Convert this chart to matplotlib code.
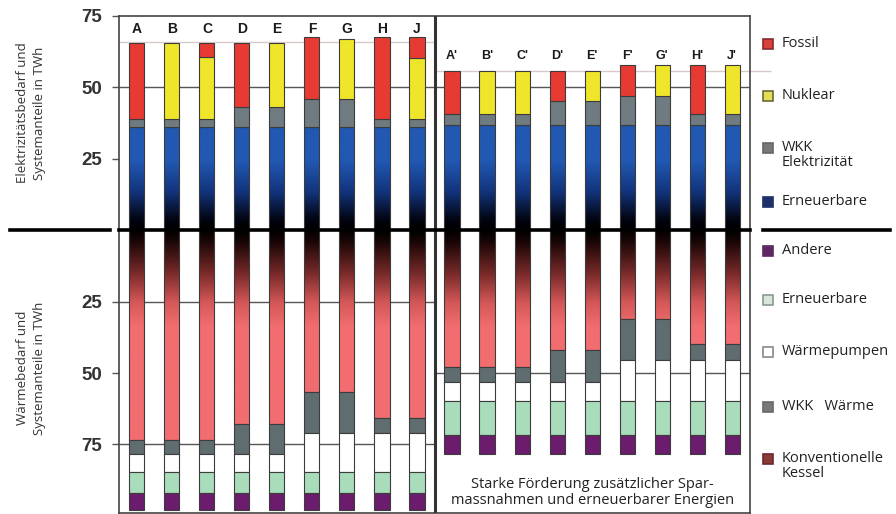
import numpy as np
import matplotlib.pyplot as plt
from matplotlib.colors import LinearSegmentedColormap, Normalize
from matplotlib.patches import Rectangle

plt.rcParams["font.family"] = ["Open Sans", "DejaVu Sans"]

# =========================
# Daten (TWh)
# =========================
szenarien = ["A", "B", "C", "D", "E", "F", "G", "H", "J",
             "A'", "B'", "C'", "D'", "E'", "F'", "G'", "H'", "J'"]

# Elektrizität, von 0 nach oben gestapelt
el_erneuerbare = [36, 36, 36, 36, 36, 36, 36, 36, 36,
                  37, 37, 37, 37, 37, 37, 37, 37, 37]
el_wkk = [2.8, 2.8, 2.8, 7.3, 7.3, 9.8, 9.8, 2.8, 2.8,
          3.6, 3.6, 3.6, 8.2, 8.2, 10.0, 10.0, 3.6, 3.6]
el_nuklear = [0, 26.9, 21.9, 0, 22.4, 0, 21.2, 0, 21.6,
              0, 15.1, 15.1, 0, 10.5, 0, 10.7, 0, 17.1]
el_fossil = [26.9, 0, 5.0, 22.4, 0, 21.8, 0, 28.8, 7.2,
             15.1, 0, 0, 10.5, 0, 10.7, 0, 17.1, 0]

# Wärme, von 0 nach unten gestapelt
w_kessel = [73.6, 73.6, 73.6, 67.7, 67.7, 56.8, 56.8, 65.8, 65.8,
            47.9, 47.9, 47.9, 41.8, 41.8, 31.2, 31.2, 39.9, 39.9]
w_wkk = [4.7, 4.7, 4.7, 10.6, 10.6, 14.1, 14.1, 5.1, 5.1,
         5.3, 5.3, 5.3, 11.4, 11.4, 14.4, 14.4, 5.7, 5.7]
w_waermepumpen = [6.4, 6.4, 6.4, 6.4, 6.4, 13.8, 13.8, 13.8, 13.8,
                  6.5, 6.5, 6.5, 6.5, 6.5, 14.1, 14.1, 14.1, 14.1]
w_erneuerbare = [7.4, 7.4, 7.4, 7.4, 7.4, 7.4, 7.4, 7.4, 7.4,
                 12.0, 12.0, 12.0, 12.0, 12.0, 12.0, 12.0, 12.0, 12.0]
w_andere = [5.9, 5.9, 5.9, 5.9, 5.9, 5.9, 5.9, 5.9, 5.9,
            6.6, 6.6, 6.6, 6.6, 6.6, 6.6, 6.6, 6.6, 6.6]

# Bedarfslinien
bedarf_el = [65.8, 55.7]
ytick_werte = [75, 50, 25, -25, -50, -75]
ytick_text = ["75", "50", "25", "25", "50", "75"]

# =========================
# Farben
# =========================
C_FOSSIL = "#e63a33"
C_NUKLEAR = "#efe52a"
C_WKK_EL = "#6f7b80"
C_WKK_W = "#5f6c70"
C_WP = "#ffffff"
C_ERN_W = "#a9dcbb"
C_ANDERE = "#6b1c6c"
EDGE = "#3c3c3c"

cmap_blau = LinearSegmentedColormap.from_list(
    "blau", [(0, "#000000"), (0.15, "#020410"), (0.55, "#12337a"), (1, "#2158b2")])
cmap_rot = LinearSegmentedColormap.from_list(
    "rot", [(0, "#000000"), (0.12, "#1a0606"), (0.45, "#7a2a2a"), (0.75, "#d45858"), (1, "#f26d70")])

fig = plt.figure(figsize=(8.96, 5.14), dpi=100)
ax = fig.add_axes([119 / 896, 1 / 514, 631 / 896, 497 / 514])

x = np.arange(len(szenarien))
bw = 0.43

# Elektrizität: Erneuerbare mit Verlauf
rects = ax.bar(x, el_erneuerbare, bw, facecolor="none", edgecolor=EDGE, linewidth=0.8, zorder=4)
for r in rects:
    h = r.get_height()
    vals = np.linspace(0, h, 256)[:, None]
    ax.imshow(vals, cmap=cmap_blau, norm=Normalize(0, 24), origin="lower", aspect="auto",
              interpolation="bilinear",
              extent=(r.get_x(), r.get_x() + r.get_width(), 0, h), zorder=3)

unten = np.array(el_erneuerbare, dtype=float)
for werte, farbe in [(el_wkk, C_WKK_EL), (el_nuklear, C_NUKLEAR), (el_fossil, C_FOSSIL)]:
    werte = np.array(werte, dtype=float)
    m = werte > 0
    ax.bar(x[m], werte[m], bw, bottom=unten[m], color=farbe, edgecolor=EDGE,
           linewidth=0.8, zorder=4)
    unten = unten + werte

# Wärme: Konventionelle Kessel mit Verlauf
kessel = -np.array(w_kessel, dtype=float)
rects = ax.bar(x, kessel, bw, facecolor="none", edgecolor=EDGE, linewidth=0.8, zorder=4)
for r in rects:
    h = -r.get_height()
    vals = np.linspace(h, 0, 256)[:, None]
    ax.imshow(vals, cmap=cmap_rot, norm=Normalize(0, 34), origin="lower", aspect="auto",
              interpolation="bilinear",
              extent=(r.get_x(), r.get_x() + r.get_width(), -h, 0), zorder=3)

unten = kessel.copy()
for werte, farbe in [(w_wkk, C_WKK_W), (w_waermepumpen, C_WP),
                     (w_erneuerbare, C_ERN_W), (w_andere, C_ANDERE)]:
    werte = -np.array(werte, dtype=float)
    ax.bar(x, werte, bw, bottom=unten, color=farbe, edgecolor=EDGE, linewidth=0.8, zorder=4)
    unten = unten + werte

# =========================
# Achsen, Linien
# =========================
xmin, xmax = -0.51, 17.51
grenze = 8.5
ax.set_xlim(xmin, xmax)
ax.set_ylim(-99, 75)
ax.set_xticks([])
ax.set_yticks(ytick_werte)
ax.set_yticklabels(ytick_text, fontsize=13.5, fontweight="bold",
                   family="Liberation Sans", color="#333333")
ax.tick_params(axis="y", length=5, width=1, color="#555555", pad=7)
for s in ax.spines.values():
    s.set_color("#444444")
    s.set_linewidth(1.2)

linie = "#555555"
ax.hlines(50, xmin, xmax, color=linie, linewidth=1.0, zorder=1)
ax.hlines([-25, -75], xmin, grenze, color=linie, linewidth=1.0, zorder=1)
ax.hlines(-50, grenze, xmax, color=linie, linewidth=1.0, zorder=1)
ax.hlines(bedarf_el[0], xmin, grenze, color="#d9c8c8", linewidth=1.0, zorder=1)
ax.hlines(bedarf_el[1], grenze, xmax + 0.6, color="#d9c8c8", linewidth=1.0, zorder=1,
          clip_on=False)
ax.axvline(grenze, color="#333333", linewidth=2.2, zorder=5)

# dicke Nulllinie, auch links und in der Legende
trans = ax.get_yaxis_transform()
ax.plot([0, 1], [0, 0], color="black", linewidth=2.6, transform=trans, zorder=6, clip_on=False)
ax.plot([-0.173, -0.014], [0, 0], color="black", linewidth=2.6, transform=trans, clip_on=False)
ax.plot([1.021, 1.222], [0, 0], color="black", linewidth=2.6, transform=trans, clip_on=False)

# Szenario-Buchstaben
for i, name in enumerate(szenarien):
    y = 70.6 if i < 9 else 61.0
    ax.text(x[i], y, name, ha="center", va="center", fontsize=10 if i < 9 else 9,
            fontweight="bold", family="Liberation Sans", color="#1a1a1a", zorder=6)

ax.text((grenze + xmax) / 2, -91.8,
        "Starke Förderung zusätzlicher Spar-\nmassnahmen und erneuerbarer Energien",
        ha="center", va="center", fontsize=10.5, color="#222222", linespacing=1.05, zorder=6)

# y-Beschriftungen
fig.text(31 / 896, 1 - 113 / 514, "Elektrizitätsbedarf und\nSystemanteile in TWh",
         rotation=90, ha="center", va="center", fontsize=9.5, color="#333333", linespacing=1.45)
fig.text(31 / 896, 1 - 368 / 514, "Wärmebedarf und\nSystemanteile in TWh",
         rotation=90, ha="center", va="center", fontsize=9.5, color="#333333", linespacing=1.45)

# =========================
# Legende rechts
# =========================
legende = [
    ("Fossil", 44, "#d8403b", "#8a2a2a"),
    ("Nuklear", 96, "#e6de5a", "#6a6a30"),
    ("WKK\nElektrizität", 148, "#787878", "#666666"),
    ("Erneuerbare", 202, "#1e2f6a", "#1e2f6a"),
    ("Andere", 251, "#5e2860", "#5e2860"),
    ("Erneuerbare", 300, "#d9e4dc", "#8a9a90"),
    ("Wärmepumpen", 352, "#ffffff", "#8a8a8a"),
    ("WKK   Wärme", 407, "#787878", "#6a6a6a"),
    ("Konventionelle\nKessel", 459, "#8a3a35", "#6a2a28"),
]
for text, ypx, fc, ec in legende:
    fig.add_artist(Rectangle(((763) / 896, 1 - (ypx + 5) / 514), 10 / 896, 10 / 514,
                             transform=fig.transFigure, facecolor=fc, edgecolor=ec,
                             linewidth=1.2))
    fig.text(782 / 896, 1 - (ypx - 8) / 514, text, ha="left", va="top",
             fontsize=10.5, color="#222222", linespacing=1.0)

fig.savefig("out.png", dpi=100, facecolor="white")
